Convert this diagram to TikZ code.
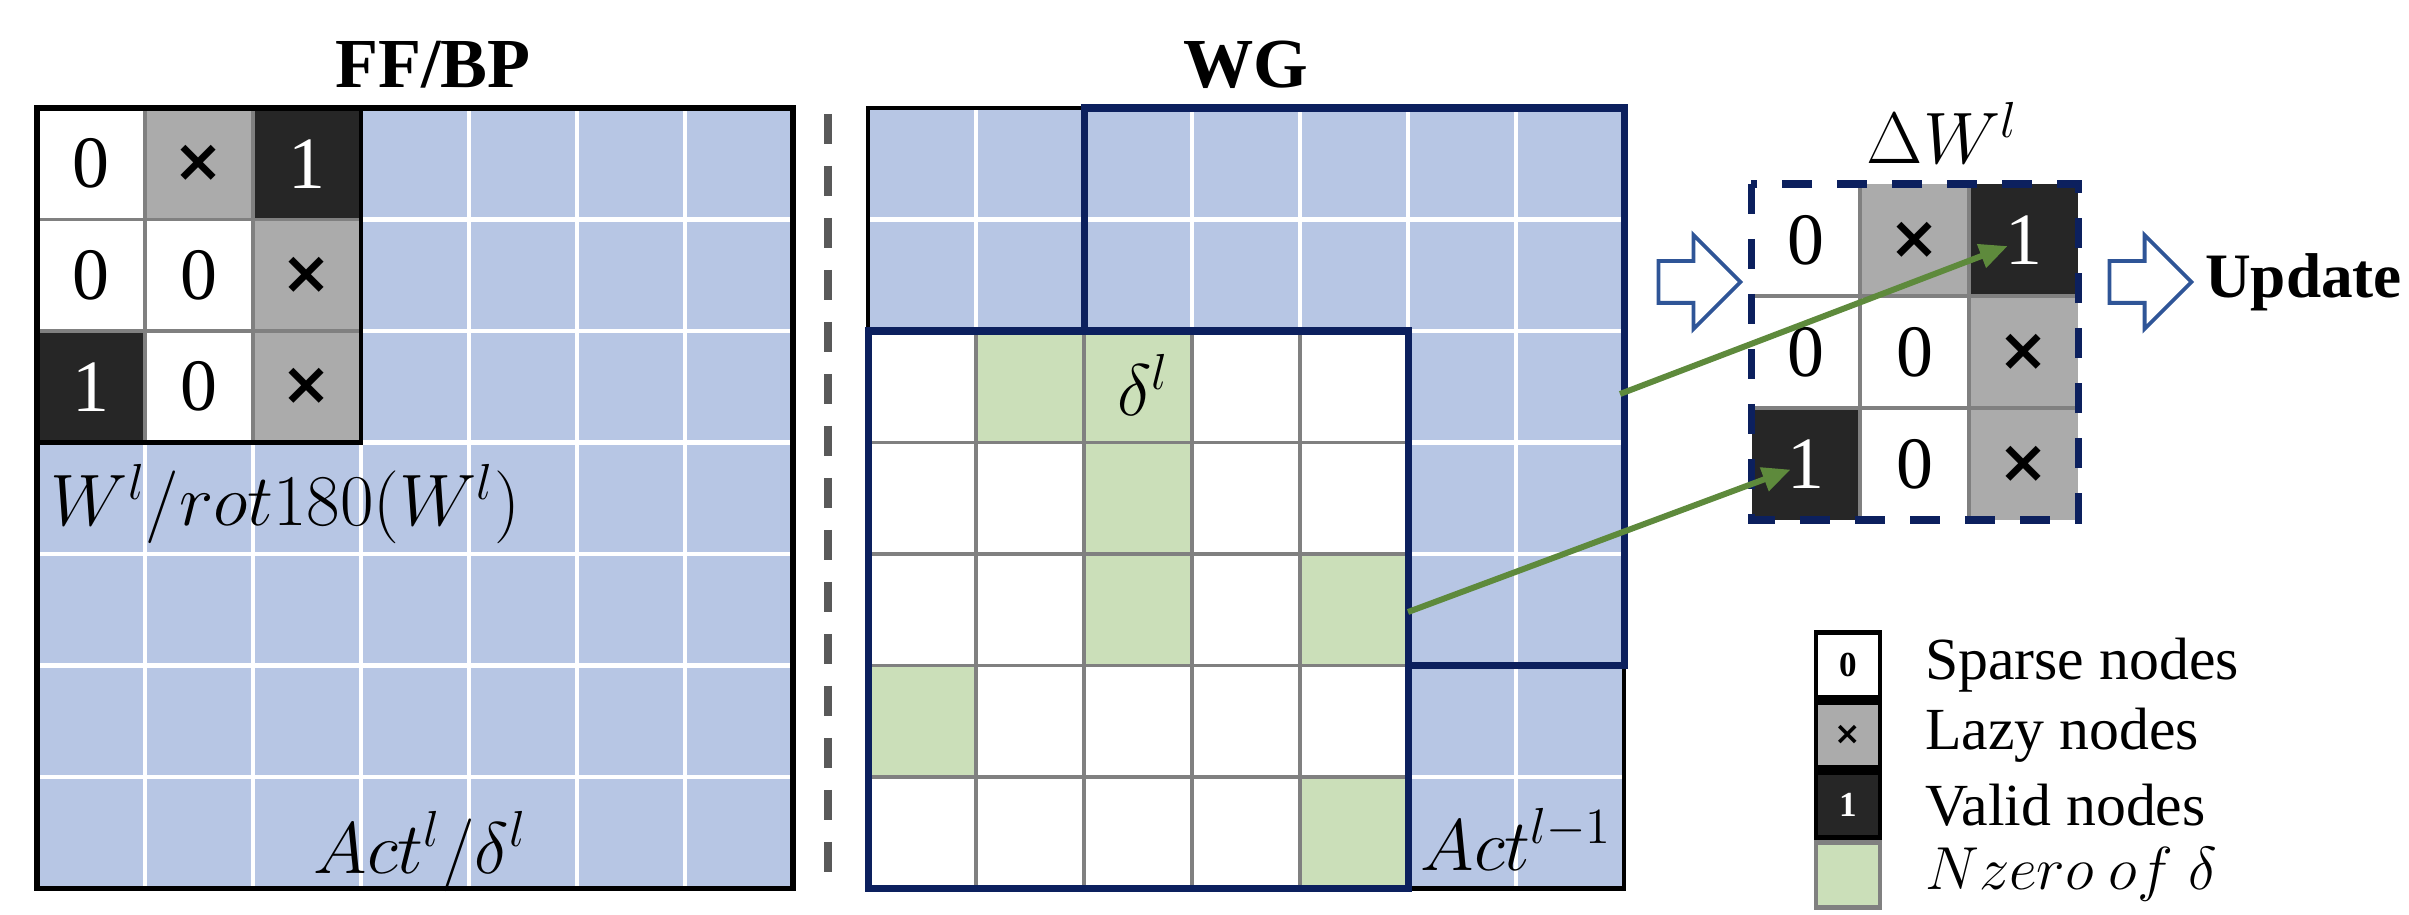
\documentclass[tikz,border=0pt]{standalone}
\usepackage{fontspec}
\setmainfont{Liberation Serif}
\newfontfamily\xfont{DejaVu Sans}
\usetikzlibrary{calc,positioning,arrows.meta,shapes.arrows}

\definecolor{actblue}{RGB}{183,198,228}
\definecolor{lazygray}{RGB}{171,171,171}
\definecolor{validdark}{RGB}{38,38,38}
\definecolor{nzgreen}{RGB}{203,223,185}
\definecolor{navy}{RGB}{12,32,94}
\definecolor{linegray}{RGB}{128,128,128}
\definecolor{sepgray}{RGB}{89,89,89}
\definecolor{arrowgreen}{RGB}{94,138,60}
\definecolor{hollowblue}{RGB}{47,85,151}

\newcommand{\lz}{{\xfont\bfseries\fontsize{17}{17}\selectfont ×}}
\newcommand{\lzsmall}{{\xfont\bfseries\fontsize{9}{9}\selectfont ×}}

\tikzset{
	cell/.style={minimum width=10.8mm, minimum height=11.15mm, inner sep=0pt, font=\fontsize{21}{21}\selectfont},
	sparse/.style={cell, fill=white},
	lazy/.style={cell, fill=lazygray},
	valid/.style={cell, fill=validdark, text=white},
	nzero/.style={cell, fill=nzgreen},
	gridline/.style={white, line width=1.2pt},
	cellline/.style={linegray, line width=1.1pt},
	title/.style={font=\fontsize{20}{20}\selectfont\bfseries, inner sep=0pt},
	mathlabel/.style={font=\fontsize{21}{21}\selectfont, inner sep=0pt},
	greenarrow/.style={arrowgreen, line width=1.7pt, -{Triangle[length=2.8mm, width=2.4mm]}},
	hollowarrow/.style={single arrow, draw=hollowblue, fill=white, line width=1.1pt, minimum height=8.2mm, minimum width=9mm, single arrow head extend=2.6mm, inner sep=1.9mm, outer sep=0pt},
	legendbox/.style={minimum width=6.4mm, minimum height=6.5mm, inner sep=0pt, line width=1.4pt, font=\fontsize{10}{10}\selectfont\bfseries},
	legendtext/.style={font=\fontsize{17}{17}\selectfont, inner sep=0pt},
}

\begin{document}
\begin{tikzpicture}[x=0.1mm, y=-0.1mm]
\useasboundingbox (0,0) rectangle (2409,915);

% FF/BP
\fill[actblue] (37,108) rectangle (793,888.5);
\foreach \k in {1,...,6}{
	\draw[gridline] ({37+108*\k},108) -- ({37+108*\k},888.5);
	\draw[gridline] (37,{108+111.5*\k}) -- (793,{108+111.5*\k});
}
\foreach \i/\j/\kind/\txt in {0/0/sparse/0, 1/0/lazy/\lz, 2/0/valid/1, 0/1/sparse/0, 1/1/sparse/0, 2/1/lazy/\lz, 0/2/valid/1, 1/2/sparse/0, 2/2/lazy/\lz}
	\node[\kind] (ff-\i-\j) at ({37+108*\i+54},{108+111.5*\j+55.75}) {\txt};
\draw[cellline] (145,108) -- (145,442.5) (253,108) -- (253,442.5) (37,219.5) -- (361,219.5) (37,331) -- (361,331);
\draw[line width=1.4pt] (37,108) rectangle (361,442.5);
\draw[line width=1.6pt] (37,108) rectangle (793,888.5);

\node[title, anchor=base] (fftitle) at (433,88) {FF/BP};
\node[mathlabel, anchor=base west] (wlabel) at (50,526) {$W^l/rot180(W^l)$};
\node[mathlabel, anchor=base west] (actlabel) at (313,873) {$Act^l/\delta^l$};

% separator
\coordinate (septop) at (828,114);
\coordinate (sepbot) at (828,885);
\draw[sepgray, line width=2.2pt, dash pattern=on 3mm off 2.2mm] (septop) -- (sepbot);

% WG
\fill[actblue] (868,108) rectangle (1624,888.5);
\foreach \k in {1,...,6}{
	\draw[gridline] ({868+108*\k},108) -- ({868+108*\k},888.5);
	\draw[gridline] (868,{108+111.5*\k}) -- (1624,{108+111.5*\k});
}
\draw[line width=1.3pt] (868,108) rectangle (1624,888.5);
\draw[navy, line width=2pt] (1084,108) rectangle (1624,665.5);

\fill[white] (868,331) rectangle (1408,888.5);
\foreach \i/\j in {1/0, 2/0, 2/1, 2/2, 4/2, 0/3, 4/4}
	\node[nzero] (dl-\i-\j) at ({868+108*\i+54},{331+111.5*\j+55.75}) {};
\foreach \k in {1,...,4}{
	\draw[cellline] ({868+108*\k},331) -- ({868+108*\k},888.5);
	\draw[cellline] (868,{331+111.5*\k}) -- (1408,{331+111.5*\k});
}
\draw[navy, line width=2pt] (868,331) rectangle (1408,888.5);

\node[title, anchor=base] (wgtitle) at (1246,88) {WG};
\node[mathlabel] (dlabel) at (1143,385) {$\delta^l$};
\node[mathlabel, anchor=base west] (alabel) at (1420,870) {$Act^{l-1}$};

% Delta W
\foreach \i/\j/\kind/\txt in {0/0/sparse/0, 1/0/lazy/\lz, 2/0/valid/1, 0/1/sparse/0, 1/1/sparse/0, 2/1/lazy/\lz, 0/2/valid/1, 1/2/sparse/0, 2/2/lazy/\lz}
	\node[\kind] (dw-\i-\j) at ({1751+109*\i+54.5},{184+112*\j+56}) {\txt};
\draw[cellline] (1860,184) -- (1860,520) (1969,184) -- (1969,520) (1751,296) -- (2078,296) (1751,408) -- (2078,408);
\draw[navy, line width=2pt, dash pattern=on 3mm off 2.5mm] (1751,184) rectangle (2078,520);
\node[mathlabel, font=\fontsize{20}{20}\selectfont, anchor=base west] (dwlabel) at (1866,164) {$\Delta W^l$};

\coordinate (fromact) at (1620,394);
\coordinate (fromdelta) at (1408,612);
\draw[greenarrow, shorten >=1.7mm] (fromact) -- (dw-2-0.center);
\draw[greenarrow, shorten >=1.6mm] (fromdelta) -- (dw-0-2.center);

\node[hollowarrow] (inarrow) at (1689,282) {};
\node[hollowarrow] (outarrow) at (2140,282) {};
\node[title, font=\fontsize{18}{18}\selectfont\bfseries, right=1.3mm of outarrow] (update) {Update};

% legend
\node[legendbox, draw=black, fill=white] (lg-sparse) at (1848,665) {0};
\node[legendbox, draw=black, fill=lazygray, below=0pt of lg-sparse] (lg-lazy) {\lzsmall};
\node[legendbox, draw=black, fill=validdark, text=white, below=0pt of lg-lazy] (lg-valid) {1};
\node[legendbox, draw=linegray, fill=nzgreen, below=0pt of lg-valid] (lg-nzero) {};
\node[legendtext, right=4.2mm of lg-sparse] (tx-sparse) {Sparse nodes};
\node[legendtext, right=4.2mm of lg-lazy] (tx-lazy) {Lazy nodes};
\node[legendtext, right=4.2mm of lg-valid] (tx-valid) {Valid nodes};
\node[legendtext, right=4.2mm of lg-nzero] (tx-nzero) {$Nzero\ of\ \delta$};
\end{tikzpicture}
\end{document}
